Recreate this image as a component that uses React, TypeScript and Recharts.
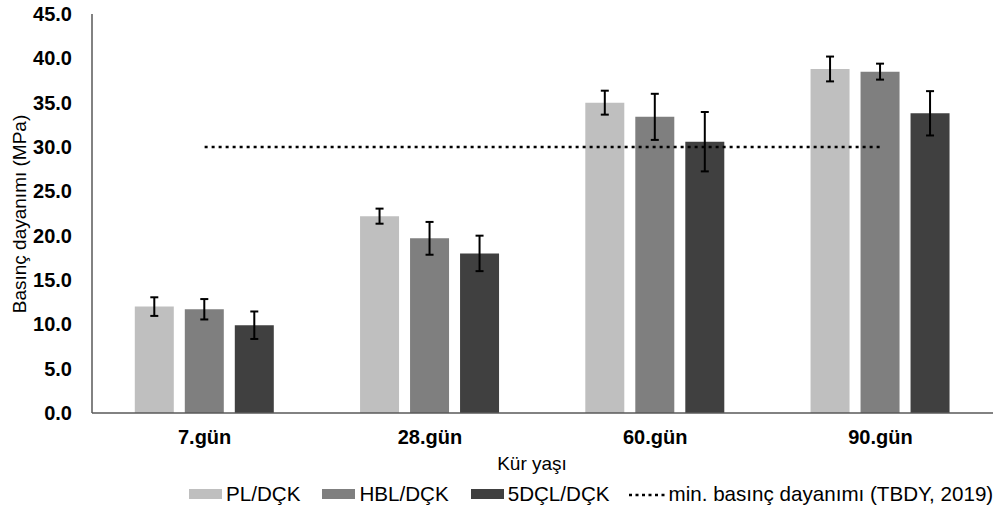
import React from "react";
import {
  ComposedChart,
  Bar,
  Line,
  XAxis,
  YAxis,
  ErrorBar,
  Legend,
} from "recharts";

const categories = ["7.gün", "28.gün", "60.gün", "90.gün"];
const plValues = [12.0, 22.2, 35.0, 38.8];
const plErrors = [1.05, 0.85, 1.35, 1.4];
const hblValues = [11.7, 19.7, 33.4, 38.5];
const hblErrors = [1.15, 1.85, 2.6, 0.9];
const dclValues = [9.9, 18.0, 30.6, 33.8];
const dclErrors = [1.55, 2.0, 3.35, 2.5];
const minStrength = [30, 30, 30, 30];
const yTicks = [0, 5, 10, 15, 20, 25, 30, 35, 40, 45];

const seriesNames = ["PL/DÇK", "HBL/DÇK", "5DÇL/DÇK"];
const lineName = "min. basınç dayanımı (TBDY, 2019)";
const COLORS = ["#bfbfbf", "#7f7f7f", "#404040"];
const FONT = "'Liberation Sans', Arial, sans-serif";

const data = categories.map((c, i) => ({
  name: c,
  pl: plValues[i],
  plErr: plErrors[i],
  hbl: hblValues[i],
  hblErr: hblErrors[i],
  dcl: dclValues[i],
  dclErr: dclErrors[i],
  min: minStrength[i],
}));

const renderLegend = () => {
  return (
    <div
      style={{
        display: "flex",
        alignItems: "center",
        height: 32,
        paddingLeft: 189,
        fontFamily: FONT,
        fontSize: 20.6,
        color: "#000",
        whiteSpace: "nowrap",
      }}
    >
      {seriesNames.map((s, i) => (
        <div key={s} style={{ display: "flex", alignItems: "center", marginRight: 22 }}>
          <span
            style={{ width: 33, height: 10, background: COLORS[i], marginRight: 4, display: "inline-block" }}
          />
          <span>{s}</span>
        </div>
      ))}
      <div style={{ display: "flex", alignItems: "center", marginLeft: -3 }}>
        <svg width={38} height={10} style={{ marginRight: 2 }}>
          <line x1={0} y1={6} x2={38} y2={6} stroke="#000" strokeWidth={2.5} strokeDasharray="3 3.5" />
        </svg>
        <span>{lineName}</span>
      </div>
    </div>
  );
};

const renderYLabel = () => (
  <text
    x={19}
    y={214}
    transform="rotate(-90 19 214)"
    textAnchor="middle"
    dominantBaseline="central"
    fontFamily={FONT}
    fontSize={19}
    fill="#000"
  >
    Basınç dayanımı (MPa)
  </text>
);

const renderXLabel = () => (
  <text x={532} y={470} textAnchor="middle" fontFamily={FONT} fontSize={19} fill="#000">
    Kür yaşı
  </text>
);

export default function App() {
  return (
    <div style={{ position: "absolute", left: 0, top: 0, width: 996, height: 510, background: "#fff" }}>
      <ComposedChart
        width={996}
        height={510}
        data={data}
        margin={{ top: 14, right: 3, bottom: 0, left: 0 }}
        barCategoryGap="19%"
        barGap={11}
      >
        <XAxis
          dataKey="name"
          axisLine={{ stroke: "#595959", strokeWidth: 1.5 }}
          tickLine={false}
          tickSize={0}
          tickMargin={17}
          height={65}
          tick={{ fontFamily: FONT, fontSize: 20, fontWeight: "bold", fill: "#000" }}
          label={{ content: renderXLabel }}
        />
        <XAxis
          xAxisId="top"
          dataKey="name"
          orientation="top"
          height={0}
          tick={false}
          tickLine={false}
          axisLine={{ stroke: "#595959", strokeWidth: 1.5 }}
        />
        <YAxis
          domain={[0, 45]}
          ticks={yTicks}
          width={92}
          axisLine={{ stroke: "#595959", strokeWidth: 1.5 }}
          tickLine={false}
          tickSize={0}
          tickMargin={20}
          tickFormatter={(v: number) => v.toFixed(1)}
          tick={{ fontFamily: FONT, fontSize: 20, fontWeight: "bold", fill: "#000" }}
          label={{ content: renderYLabel }}
        />
        <YAxis
          yAxisId="right"
          orientation="right"
          domain={[0, 45]}
          width={0}
          tick={false}
          tickLine={false}
          axisLine={{ stroke: "#595959", strokeWidth: 1.5 }}
        />
        <Legend verticalAlign="bottom" content={renderLegend} wrapperStyle={{ left: 0, width: 996, height: 32 }} />
        <Bar dataKey="pl" name={seriesNames[0]} fill={COLORS[0]} isAnimationActive={false}>
          <ErrorBar dataKey="plErr" width={4} strokeWidth={2} stroke="#000" />
        </Bar>
        <Bar dataKey="hbl" name={seriesNames[1]} fill={COLORS[1]} isAnimationActive={false}>
          <ErrorBar dataKey="hblErr" width={4} strokeWidth={2} stroke="#000" />
        </Bar>
        <Bar dataKey="dcl" name={seriesNames[2]} fill={COLORS[2]} isAnimationActive={false}>
          <ErrorBar dataKey="dclErr" width={4} strokeWidth={2} stroke="#000" />
        </Bar>
        <Line
          dataKey="min"
          name={lineName}
          stroke="#000"
          strokeWidth={2.5}
          strokeDasharray="3 4"
          dot={false}
          activeDot={false}
          isAnimationActive={false}
        />
      </ComposedChart>
    </div>
  );
}
